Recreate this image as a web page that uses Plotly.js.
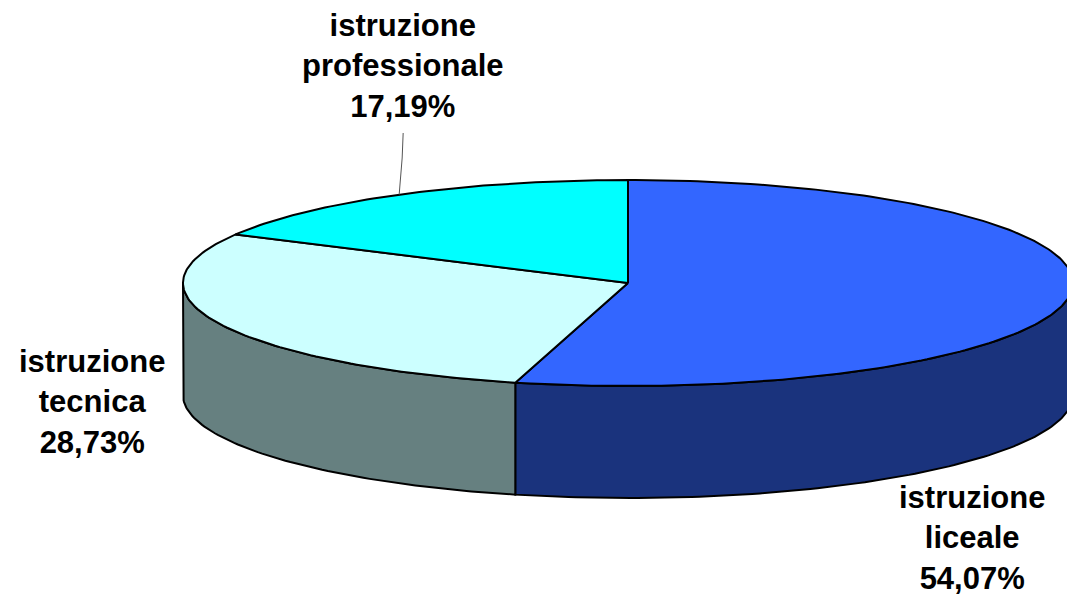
<!DOCTYPE html>
<html>
<head>
<meta charset="utf-8">
<script src="https://cdn.plot.ly/plotly-3.0.1.min.js"></script>
<style>html,body{margin:0;padding:0;background:#fff;}#chart{width:1067px;height:599px;}</style>
</head>
<body>
<div id="chart"></div>
<script>
// Data
const categories = ['istruzione liceale', 'istruzione tecnica', 'istruzione professionale'];
const values = [54.07, 28.73, 17.19];
const topColors = ['#3366FF', '#CCFFFF', '#00FFFF'];
const sideColors = ['#1A337D', '#668080', '#00A0A0'];

// Geometry of the tilted pie (pixel-like data units)
const cx = 628, cy = 283, rx = 445, ry = 103, depth = 112;

function pt(deg, dy) {
  const r = deg * Math.PI / 180;
  return [cx + rx * Math.sin(r), cy - ry * Math.cos(r) + (dy || 0)];
}
function arc(a0, a1, dy) {
  const out = [];
  const n = Math.max(2, Math.ceil(Math.abs(a1 - a0)));
  for (let i = 0; i <= n; i++) out.push(pt(a0 + (a1 - a0) * i / n, dy));
  return out;
}

const total = values.reduce((a, b) => a + b, 0);
const slices = [];
let acc = 0;
values.forEach((v, i) => {
  const a0 = acc / total * 360;
  acc += v;
  const a1 = acc / total * 360;
  slices.push({a0, a1, i});
});

const traces = [];
// side walls (front half only: 90..270 degrees)
slices.forEach(s => {
  const st = Math.max(s.a0, 90), en = Math.min(s.a1, 270);
  if (en > st) {
    const pts = arc(st, en, 0).concat(arc(en, st, depth));
    pts.push(pts[0]);
    traces.push({
      type: 'scatter', mode: 'lines', fill: 'toself',
      x: pts.map(p => p[0]), y: pts.map(p => p[1]),
      fillcolor: sideColors[s.i], line: {color: '#000', width: 2},
      hoverinfo: 'skip', showlegend: false
    });
  }
});
// top faces
slices.forEach(s => {
  const pts = [[cx, cy]].concat(arc(s.a0, s.a1, 0));
  pts.push([cx, cy]);
  traces.push({
    type: 'scatter', mode: 'lines', fill: 'toself',
    x: pts.map(p => p[0]), y: pts.map(p => p[1]),
    fillcolor: topColors[s.i], line: {color: '#000', width: 2},
    hoverinfo: 'skip', showlegend: false, name: categories[s.i]
  });
});

// leader line for professionale label
const profMid = (slices[2].a0 + slices[2].a1) / 2;
const pm = pt(profMid, 0);
traces.push({
  type: 'scatter', mode: 'lines',
  x: [pm[0], pm[0] + 3, pm[0] + 4], y: [pm[1], 158, 133],
  line: {color: '#555', width: 1}, hoverinfo: 'skip', showlegend: false
});

function fmt(v) { return v.toFixed(2).replace('.', ',') + '%'; }
function lab(i) {
  const parts = categories[i].split(' ');
  return '<b>' + parts.join('<br>') + '<br>' + fmt(values[i]) + '</b>';
}
const labelPos = [[972, 538], [92, 402], [403, 66]];
const annotations = labelPos.map((p, i) => ({
  x: p[0], y: p[1], xref: 'x', yref: 'y', text: lab(i), showarrow: false,
  xanchor: 'center', yanchor: 'middle', align: 'center',
  font: {family: 'Liberation Sans, Arial, sans-serif', size: 31, color: '#000'}
}));

const layout = {
  width: 1067, height: 599,
  margin: {l: 0, r: 0, t: 0, b: 0},
  paper_bgcolor: '#fff', plot_bgcolor: '#fff',
  xaxis: {range: [0, 1067], visible: false, fixedrange: true},
  yaxis: {range: [599, 0], visible: false, fixedrange: true},
  annotations: annotations,
  showlegend: false
};
Plotly.newPlot('chart', traces, layout, {displayModeBar: false, staticPlot: true});
</script>
</body>
</html>
